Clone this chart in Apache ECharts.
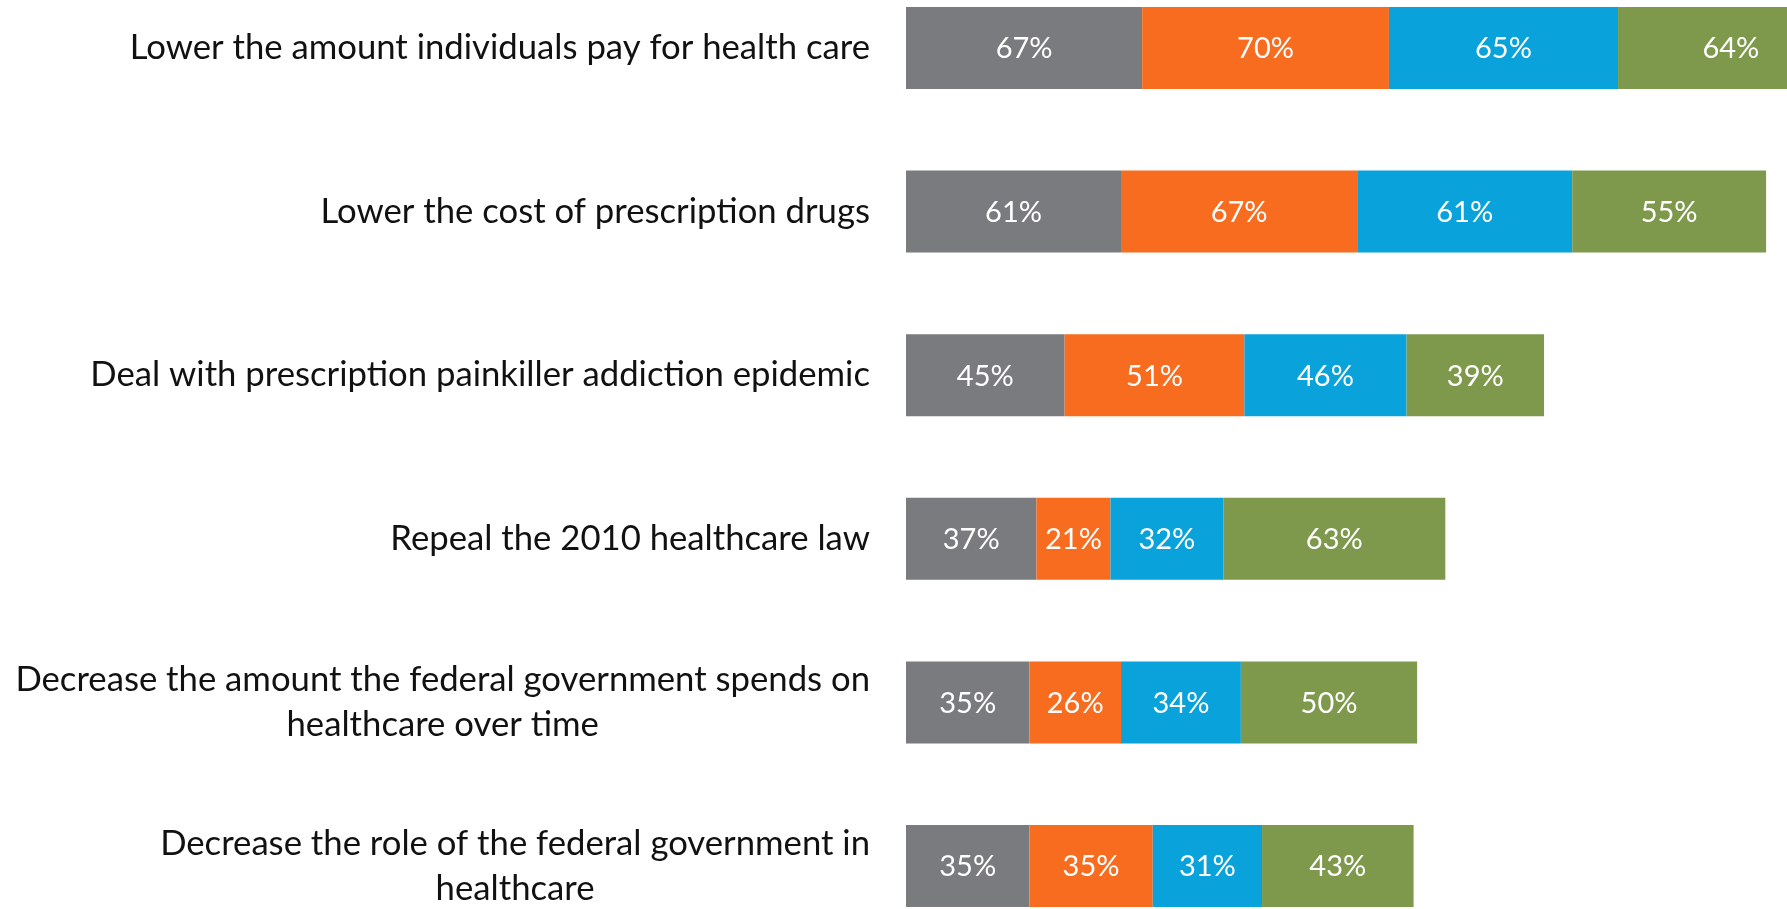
<!DOCTYPE html>
<html>
<head>
<meta charset="utf-8">
<script src="https://cdn.jsdelivr.net/npm/echarts@6/dist/echarts.min.js"></script>
<style>
  html, body { margin: 0; padding: 0; background: #ffffff; }
  #chart { width: 1787px; height: 909px; }
</style>
</head>
<body>
<div id="chart"></div>
<script>
// Policy priorities, top to bottom
const categories = [
  'Lower the amount individuals pay for health care',
  'Lower the cost of prescription drugs',
  'Deal with prescription painkiller addiction epidemic',
  'Repeal the 2010 healthcare law',
  'Decrease the amount the federal government spends on\nhealthcare over time',
  'Decrease the role of the federal government in\nhealthcare'
];

// Share of respondents (%) in each group
const groupGray   = [67, 61, 45, 37, 35, 35];
const groupOrange = [70, 67, 51, 21, 26, 35];
const groupBlue   = [65, 61, 46, 32, 34, 31];
const groupGreen  = [64, 55, 39, 63, 50, 43];

const groups = [
  { name: 'Group 1', values: groupGray,   color: '#7a7b7f' },
  { name: 'Group 2', values: groupOrange, color: '#f86c1f' },
  { name: 'Group 3', values: groupBlue,   color: '#0aa2da' },
  { name: 'Group 4', values: groupGreen,  color: '#7e994c' }
];

// Longest stacked row sets the axis span
const axisMax = Math.max(...categories.map((_, i) => groups.reduce((s, g) => s + g.values[i], 0)));
const pxPerUnit = 3.525;

const chart = echarts.init(document.getElementById('chart'), null, { renderer: 'canvas' });

chart.setOption({
  animation: false,
  backgroundColor: '#ffffff',
  grid: {
    left: 906,
    top: -33.8,
    width: axisMax * pxPerUnit,
    height: 981.6,
    containLabel: false,
    outerBoundsMode: 'none'
  },
  xAxis: {
    type: 'value',
    min: 0,
    max: axisMax,
    show: false
  },
  yAxis: {
    type: 'category',
    inverse: true,
    data: categories,
    axisLine: { show: false },
    axisTick: { show: false },
    splitLine: { show: false },
    axisLabel: {
      margin: 36,
      align: 'right',
      formatter: v => v.split('\n').map(line => '{c|' + line + '}').join('\n'),
      rich: {
        c: {
          align: 'center',
          fontFamily: 'Lato',
          fontSize: 34.7,
          lineHeight: 45,
          color: '#111111'
        }
      }
    }
  },
  series: groups.map(g => ({
    type: 'bar',
    name: g.name,
    stack: 'all',
    data: g.values,
    barWidth: 82,
    itemStyle: { color: g.color },
    label: {
      show: true,
      position: 'inside',
      formatter: '{c}%',
      color: '#ffffff',
      fontFamily: 'Lato',
      fontSize: 29,
      offset: [0, 1]
    }
  }))
});
</script>
</body>
</html>
